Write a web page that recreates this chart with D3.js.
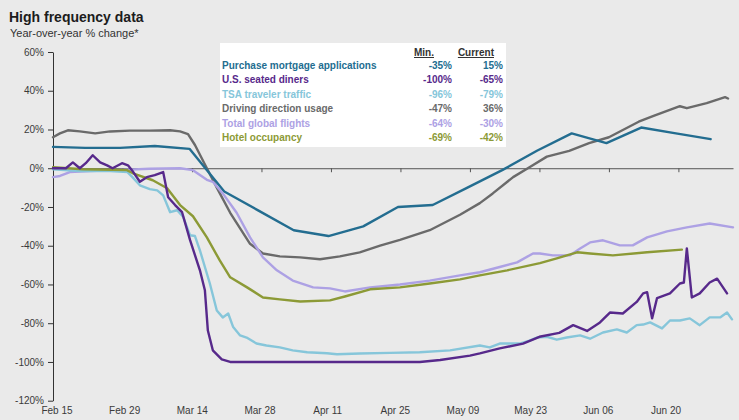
<!DOCTYPE html>
<html>
<head>
<meta charset="utf-8">
<script src="https://cdn.jsdelivr.net/npm/d3@7"></script>
<style>
  body { margin: 0; background: #eaeaea; }
  svg { display: block; font-family: "Liberation Sans", Arial, sans-serif; }
</style>
</head>
<body>
<div id="wrapper"></div>
<script>
// x labels and y ticks
const tickLabels = ["Feb 15", "Feb 29", "Mar 14", "Mar 28", "Apr 11", "Apr 25", "May 09", "May 23", "Jun 06", "Jun 20"];
const yTicks = [60, 40, 20, 0, -20, -40, -60, -80, -100, -120];

// days counted from Feb 15 2020, values in % y/y
const mortgageDays = [0, 6.5, 13.5, 20.5, 27.5, 34.5, 41.5, 48.5, 55.5, 62.5, 69.5, 76.5, 83.5, 90.5, 97.5, 104.5, 111.5, 118.5, 125.5, 132.5];
const mortgageValues = [11, 10.5, 10.5, 11.5, 10, -12, -22, -32, -35, -30, -20, -19, -10, -1, 9, 18, 13, 21, 18, 15];

const diners = [[0, 0], [1.4, 0], [2.6, 0], [4, 3], [5.4, 0], [6.6, 2.6], [8, 6.7], [9.5, 3], [10.9, 1.5], [12, 0],
  [13.9, 2.6], [15.1, 1.5], [15.9, -1], [17.5, -7], [18.9, -4.6], [20.5, -3.6], [22.2, -2], [23.2, -15], [24.6, -19],
  [26, -22.7], [27.6, -37], [29.6, -52.7], [30.6, -63], [31.2, -83.8], [32.2, -94], [34, -98.7], [35.7, -100],
  [73.9, -100], [78, -99], [84, -96.7], [86, -95.6], [90, -93], [94.7, -90.5], [98, -87], [102, -85], [104.8, -81],
  [107.6, -84], [110.2, -79.6], [112.2, -74.5], [114.8, -75], [117.6, -69], [118.9, -64.6], [119.7, -64],
  [120.7, -77.5], [121.7, -67], [124.3, -64.6], [126.3, -59.5], [127.1, -59], [127.7, -41.4], [128.7, -66.7],
  [130.3, -64.6], [132.3, -59], [133.8, -57], [135.8, -64.6]];

const tsa = [[0, -0.5], [5.4, -1.5], [11.5, -1.5], [15, -2], [16, -4.6], [17.5, -8.8], [19.5, -10.8], [21, -11.4],
  [22.2, -14], [23.6, -22.7], [25, -21.7], [26.2, -25], [27.6, -34.6], [28.6, -35], [29.6, -42.4], [31.6, -59.5],
  [33, -73.4], [34.2, -77], [35.3, -75], [36.3, -82], [37.7, -86.3], [39, -87.4], [41, -90.5], [43, -91.5],
  [45.7, -92.5], [48.3, -94], [51.2, -95], [55.2, -95.5], [57.2, -96], [61.8, -95.6], [67.9, -95.3], [73.9, -95],
  [80, -94], [86, -91.5], [88, -92.5], [90, -90.5], [94, -90.5], [96, -89], [97.5, -87.4], [99.5, -87],
  [101.5, -88.5], [103.5, -87.4], [106.2, -86.3], [108.2, -88], [110.8, -84.8], [113.6, -83.2], [115.6, -84.8],
  [117.6, -81], [118.9, -80.7], [120.3, -79.6], [122.7, -82.7], [124.3, -78.6], [126.3, -78.6], [128.3, -77.5],
  [130.3, -81], [132.3, -77], [134.4, -77], [135.8, -74.5], [136.8, -78]];

const driving = [[0, 16], [1.4, 18], [3, 19.6], [5.4, 19], [8.5, 18], [11.5, 19], [15.5, 19.4], [19.5, 19.4],
  [23.6, 19.6], [25.6, 19], [27.2, 17.6], [28.6, 12], [31, 0], [33, -10], [35.7, -23], [39.7, -39], [42.3, -44],
  [45.7, -45.5], [49.8, -46], [53.8, -47], [57.8, -45.5], [61.8, -43.4], [65.9, -40], [69.9, -37], [75.9, -32],
  [82, -24], [86, -18], [88.6, -13], [92.7, -4.6], [96, 0.5], [99.5, 6], [104, 9], [108, 13], [112, 16],
  [118, 24], [121, 27], [126.3, 32], [127.7, 31], [131.7, 33.6], [135.4, 36.7], [136, 36]];

const flights = [[0, -4.6], [1.4, -4], [3.4, -2], [7.5, -1.5], [12.9, -1], [19.5, -0.3], [25.6, 0], [28.2, -1],
  [31, -6], [32.2, -7], [34.2, -13], [37, -23], [39.7, -35.7], [42.3, -46], [45.1, -52.7], [48.3, -58],
  [52.4, -61.5], [55.8, -62], [58.8, -63.6], [63.9, -61.5], [69.9, -60], [75.9, -58], [82, -55.3], [86, -53.7],
  [90, -51], [93.5, -48.6], [96.7, -44], [98.1, -44], [100.7, -45], [104.1, -45], [106.2, -41.4], [108.2, -38.3],
  [110.8, -37.2], [114.2, -39.8], [116.8, -39.8], [119.7, -35.7], [123.7, -32.6], [127.7, -30.5],
  [132.3, -28.5], [137, -30.5]];

const hotel = [[0, 0.5], [6, -0.5], [14.9, -1], [16.1, -2.6], [20.1, -6.2], [23, -10.3], [25.6, -19], [28.2, -24.8],
  [31, -35.7], [33.6, -47.6], [35.7, -56.3], [39.1, -61.5], [42.3, -66.7], [45.7, -67.7], [49.8, -68.8],
  [55.8, -68.2], [58.8, -66.2], [63.9, -62.5], [69.9, -61.5], [75.9, -59.5], [82, -57.4], [86, -55.3],
  [91.5, -52.7], [98.1, -49], [101.5, -46.5], [105.6, -43.4], [108.2, -44], [112.8, -45], [119.7, -43.4],
  [126.7, -42]];

// legend table
const legendNames = ["Purchase mortgage applications", "U.S. seated diners", "TSA traveler traffic",
  "Driving direction usage", "Total global flights", "Hotel occupancy"];
const legendMin = ["-35%", "-100%", "-96%", "-47%", "-64%", "-69%"];
const legendCurrent = ["15%", "-65%", "-79%", "36%", "-30%", "-42%"];
const legendColors = ["#236d90", "#57298b", "#86c6da", "#6a6a6a", "#ada1e4", "#8c9a36"];

function drawChart() {
    const dimensions = {
        width: 739,
        height: 420,
        left: 53,
        right: 733,
        top: 52,
        bottom: 400.7
    };

    const start = Date.UTC(2020, 1, 15);
    const toDate = d => new Date(start + d * 864e5);

    d3.select("#wrapper").selectAll("svg").remove();

    const wrapper = d3.select("#wrapper")
        .append("svg")
        .attr("width", dimensions.width)
        .attr("height", dimensions.height);

    wrapper.append("rect")
        .attr("width", dimensions.width)
        .attr("height", dimensions.height)
        .attr("fill", "#eaeaea");

    // Titles
    wrapper.append("text")
        .attr("x", 9).attr("y", 22)
        .attr("font-size", "14px").attr("font-weight", "bold")
        .attr("fill", "#1c1c1c")
        .text("High frequency data");

    wrapper.append("text")
        .attr("x", 10).attr("y", 37)
        .attr("font-size", "11px")
        .attr("fill", "#333")
        .text("Year-over-year % change*");

    const xScale = d3.scaleUtc()
        .domain([toDate(0), toDate(137)])
        .range([dimensions.left, dimensions.right]);

    const yScale = d3.scaleLinear()
        .domain([-120, 60])
        .range([dimensions.bottom, dimensions.top]);

    const labelScale = d3.scalePoint()
        .domain(tickLabels)
        .range([57, 666]);

    // y axis
    const yAxis = wrapper.append("g")
        .attr("transform", `translate(${dimensions.left},0)`)
        .call(d3.axisLeft(yScale)
            .tickValues(yTicks)
            .tickSize(5)
            .tickPadding(4)
            .tickSizeOuter(0)
            .tickFormat(d => d + "%"));
    yAxis.select(".domain").attr("stroke", "#333");
    yAxis.selectAll(".tick line").attr("stroke", "#333");
    yAxis.selectAll(".tick text")
        .attr("font-family", "Liberation Sans, Arial, sans-serif")
        .attr("font-size", "10px")
        .attr("fill", "#3a3a3a");

    // zero line with fortnight ticks
    const zeroAxis = wrapper.append("g")
        .attr("transform", `translate(0,${yScale(0)})`)
        .call(d3.axisBottom(xScale)
            .tickValues(d3.range(14, 137, 14).map(toDate))
            .tickSize(4)
            .tickSizeOuter(0)
            .tickFormat(""));
    zeroAxis.select(".domain").attr("stroke", "#555");
    zeroAxis.selectAll(".tick line").attr("stroke", "#555");

    wrapper.append("g")
        .selectAll("text")
        .data(tickLabels)
        .join("text")
        .attr("x", d => labelScale(d))
        .attr("y", 414)
        .attr("text-anchor", "middle")
        .attr("font-size", "10px")
        .attr("fill", "#3a3a3a")
        .text(d => d);

    // Lines
    const lineGenerator = d3.line()
        .x(d => xScale(toDate(d[0])))
        .y(d => yScale(d[1]));

    const series = [
        { data: driving, color: legendColors[3] },
        { data: d3.zip(mortgageDays, mortgageValues), color: legendColors[0] },
        { data: flights, color: legendColors[4] },
        { data: tsa, color: legendColors[2] },
        { data: hotel, color: legendColors[5] },
        { data: diners, color: legendColors[1] }
    ];

    wrapper.append("g")
        .selectAll("path")
        .data(series)
        .join("path")
        .attr("d", d => lineGenerator(d.data))
        .attr("fill", "none")
        .attr("stroke", d => d.color)
        .attr("stroke-width", 2.4)
        .attr("stroke-linejoin", "round")
        .attr("stroke-linecap", "round");

    // Legend table
    const legend = wrapper.append("g");

    legend.append("rect")
        .attr("x", 220).attr("y", 43)
        .attr("width", 286).attr("height", 104)
        .attr("fill", "#ffffff");

    legend.append("text")
        .attr("x", 434).attr("y", 56)
        .attr("text-anchor", "end")
        .attr("font-size", "10px").attr("font-weight", "bold")
        .attr("text-decoration", "underline")
        .attr("fill", "#333")
        .text("Min.");

    legend.append("text")
        .attr("x", 494).attr("y", 56)
        .attr("text-anchor", "end")
        .attr("font-size", "10px").attr("font-weight", "bold")
        .attr("text-decoration", "underline")
        .attr("fill", "#333")
        .text("Current");

    const rows = legend.selectAll(".row")
        .data(legendNames)
        .join("g")
        .attr("class", "row")
        .attr("transform", (d, i) => `translate(0,${69 + i * 14.4})`)
        .attr("font-size", "10px")
        .attr("font-weight", "bold")
        .attr("fill", (d, i) => legendColors[i]);

    rows.append("text").attr("x", 222).text(d => d);
    rows.append("text").attr("x", 452).attr("text-anchor", "end").text((d, i) => legendMin[i]);
    rows.append("text").attr("x", 503).attr("text-anchor", "end").text((d, i) => legendCurrent[i]);
}

drawChart();
</script>
</body>
</html>
